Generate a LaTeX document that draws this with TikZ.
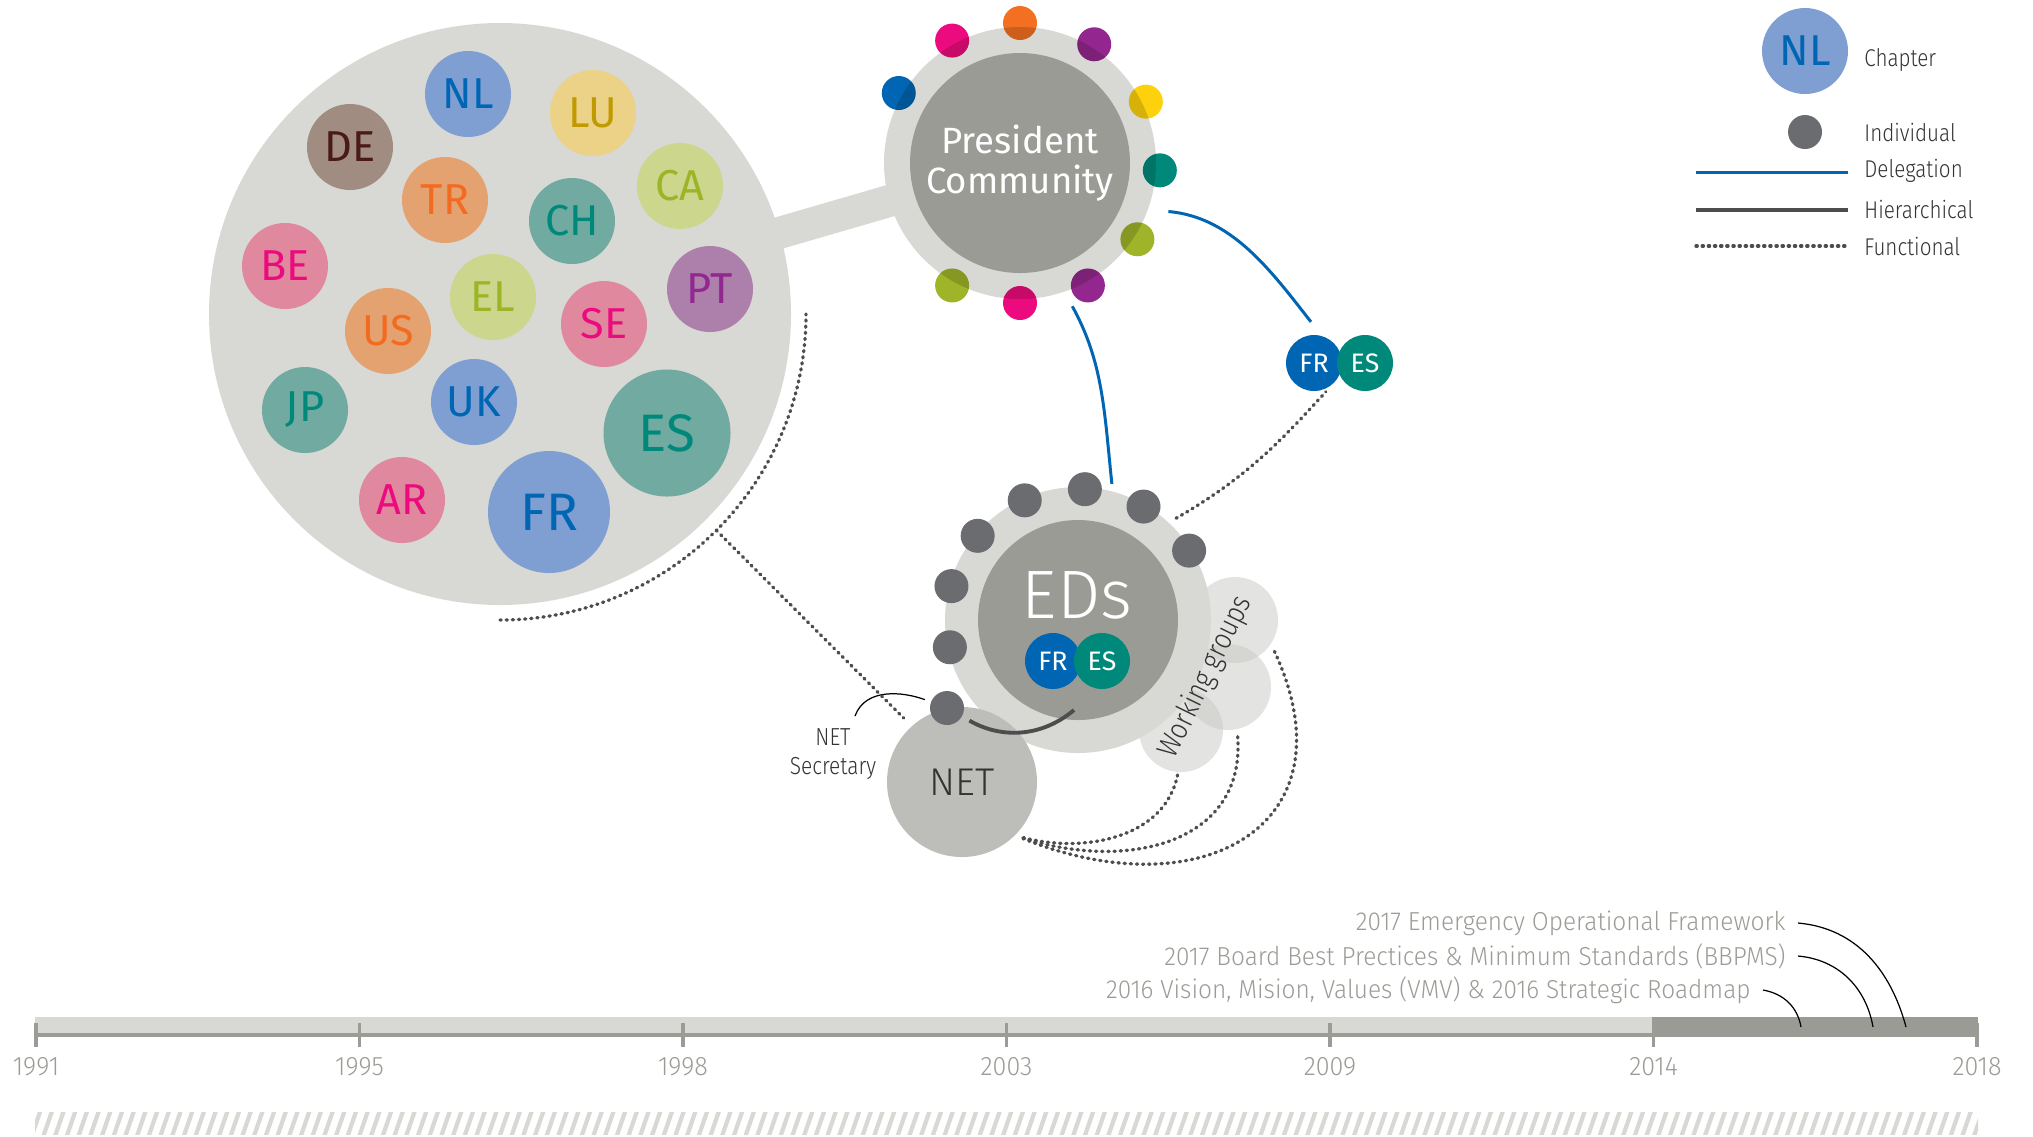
\documentclass[tikz,border=0pt]{standalone}
\usepackage{fontspec}
\setmainfont{Fira Sans}
\newfontfamily\lightfont{Fira Sans Light}
\newfontfamily\condfont{Fira Sans Light}[FakeStretch=0.85]
\newfontfamily\msfont{Fira Sans Light}[FakeStretch=0.94]
\usetikzlibrary{calc,positioning}

\definecolor{ringgrey}{HTML}{D8D8D4}
\definecolor{coregrey}{HTML}{9B9B96}
\definecolor{netgrey}{HTML}{BDBDB9}
\definecolor{wggrey}{HTML}{C7C7C3}
\definecolor{indgrey}{HTML}{6B6C70}
\definecolor{linegrey}{HTML}{4D4D4D}
\definecolor{txtgrey}{HTML}{333333}
\definecolor{yeargrey}{HTML}{9C9C96}
\definecolor{delblue}{HTML}{0066B3}
\definecolor{delteal}{HTML}{00897B}
\definecolor{blueF}{HTML}{7F9FD2}\definecolor{blueT}{HTML}{0066B3}
\definecolor{tealF}{HTML}{70AAA0}\definecolor{tealT}{HTML}{00897B}
\definecolor{pinkF}{HTML}{E0899E}\definecolor{pinkT}{HTML}{EC0B7E}
\definecolor{orngF}{HTML}{E5A271}\definecolor{orngT}{HTML}{F26B21}
\definecolor{limeF}{HTML}{CCD68C}\definecolor{limeT}{HTML}{9BB526}
\definecolor{yellF}{HTML}{EBD287}\definecolor{yellT}{HTML}{C09A00}
\definecolor{brwnF}{HTML}{A08C80}\definecolor{brwnT}{HTML}{4A1A1A}
\definecolor{purpF}{HTML}{AD7FAB}\definecolor{purpT}{HTML}{92278F}
\definecolor{dotorange}{HTML}{F36F21}
\definecolor{dotpink}{HTML}{EC0B7E}
\definecolor{dotpurple}{HTML}{93278F}
\definecolor{dotblue}{HTML}{0066B3}
\definecolor{dotyellow}{HTML}{FDD20C}
\definecolor{dotteal}{HTML}{00897B}
\definecolor{dotolive}{HTML}{A0B42A}

\tikzset{
  chap/.style={circle, inner sep=0pt, minimum size=0.86cm, fill=#1F, text=#1T,
    font=\fontsize{12.3}{12.3}\selectfont},
  bigchap/.style={minimum size=1.22cm, font=\fontsize{15}{15}\selectfont},
  pair/.style={circle, inner sep=0pt, minimum size=0.56cm, fill=#1, text=white,
    font=\fontsize{7.6}{7.6}\selectfont},
  indiv/.style={circle, inner sep=0pt, minimum size=0.34cm, fill=indgrey},
  wgroup/.style={circle, inner sep=0pt, minimum size=0.86cm, fill=wggrey, fill opacity=0.5},
  deleg/.style={delblue, line width=0.85pt},
  hier/.style={linegrey, line width=1.1pt},
  func/.style={linegrey, line width=0.95pt, line cap=round, dash pattern=on 0.35pt off 1.4pt},
  leader/.style={black, line width=0.35pt},
  legtext/.style={anchor=west, text=txtgrey, font=\condfont\fontsize{6.9}{6.9}\selectfont},
  year/.style={text=yeargrey, font=\msfont\fontsize{7.6}{7.6}\selectfont},
  milestone/.style={anchor=east, text=yeargrey, font=\msfont\fontsize{7.4}{7.4}\selectfont},
}

\begin{document}
\begin{tikzpicture}
\useasboundingbox (0,0) rectangle (20.33,-11.36);

    \coordinate (chapc) at (5.00,-3.14);
    \coordinate (pcc) at (10.20,-1.63);
    \coordinate (edc) at (10.78,-6.20);

    \draw[ringgrey, line width=0.32cm] (chapc) -- (pcc);
    \node[circle, fill=ringgrey, minimum size=5.82cm, inner sep=0pt] (chapters) at (chapc) {};

    \node[chap=blue] (nl) at (4.68,-0.94) {NL};
    \node[chap=yell] (lu) at (5.93,-1.13) {LU};
    \node[chap=brwn] (de) at (3.50,-1.47) {DE};
    \node[chap=orng] (tr) at (4.45,-2.00) {TR};
    \node[chap=teal] (ch) at (5.72,-2.21) {CH};
    \node[chap=lime] (ca) at (6.80,-1.86) {CA};
    \node[chap=pink] (be) at (2.85,-2.66) {BE};
    \node[chap=lime] (el) at (4.93,-2.97) {EL};
    \node[chap=pink] (se) at (6.04,-3.24) {SE};
    \node[chap=purp] (pt) at (7.10,-2.89) {PT};
    \node[chap=orng] (us) at (3.88,-3.31) {US};
    \node[chap=teal] (jp) at (3.05,-4.10) {JP};
    \node[chap=blue] (uk) at (4.74,-4.02) {UK};
    \node[chap=teal, bigchap, minimum size=1.27cm] (es) at (6.67,-4.33) {ES};
    \node[chap=pink] (ar) at (4.02,-5.00) {AR};
    \node[chap=blue, bigchap] (fr) at (5.49,-5.12) {FR};

    \node[circle, fill=ringgrey, minimum size=2.72cm, inner sep=0pt] (pc) at (pcc) {};
    \node[circle, fill=coregrey, minimum size=2.20cm, inner sep=0pt, text=white, align=center,
      font=\fontsize{10.4}{11.2}\selectfont] (pccore) at (pcc) {President\\Community};
    \begin{scope}[blend mode=multiply]
      \foreach \ang/\col in {150/dotblue, 119/dotpink, 90/dotorange, 58/dotpurple, 26/dotyellow,
          -3/dotteal, -33/dotolive, -61/dotpurple, -90/dotpink, -119/dotolive}
        \fill[\col] (pc.center) ++(\ang:1.40) circle (0.17);
    \end{scope}

    \node[pair=delblue] (frd) at (13.14,-3.63) {FR};
    \node[pair=delteal] (esd) at (13.65,-3.63) {ES};

    \node[wgroup] (wg1) at (12.35,-6.20) {};
    \node[wgroup] (wg2) at (12.28,-6.87) {};
    \node[wgroup, minimum size=0.84cm] (wg3) at (11.81,-7.30) {};

    \node[circle, fill=ringgrey, minimum size=2.66cm, inner sep=0pt] (eds) at (edc) {};
    \node[circle, fill=coregrey, minimum size=2.00cm, inner sep=0pt] (edcore) at (edc) {};
    \node[text=white, font=\lightfont\fontsize{19.5}{19.5}\selectfont] (edtxt) at (10.77,-5.95) {EDs};
    \node[pair=delblue] (fre) at (10.53,-6.61) {FR};
    \node[pair=delteal] (ese) at (11.02,-6.61) {ES};
    \foreach \ang [count=\i] in {192,165,140,114,87,60,32}
      \node[indiv] (ind\i) at ($(edc)+(\ang:1.31)$) {};

    \node[circle, fill=netgrey, minimum size=1.50cm, inner sep=0pt, text=txtgrey,
      font=\lightfont\fontsize{11}{11}\selectfont] (net) at (9.62,-7.82) {NET};
    \node[indiv] (sec) at (9.47,-7.08) {};
    \node[align=center, text=txtgrey, font=\condfont\fontsize{7}{8}\selectfont] (secl) at (8.33,-7.54) {NET\\Secretary};
    \node[rotate=64, text=txtgrey, font=\condfont\fontsize{8.5}{8.5}\selectfont] (wgtxt) at (12.06,-6.77) {Working groups};

    \coordinate (secfrom) at (8.55,-7.16);
    \coordinate (hierend) at (10.74,-7.10);
    \draw[leader, shorten >=0.06cm] (secfrom) to[out=70, in=160] (sec.159);
    \draw[hier, shorten <=0.08cm] (sec.-29) to[out=-30, in=-140] (hierend);

    \draw[deleg, shorten <=0.20cm, shorten >=0.17cm] (pc.-20) to[out=-5, in=128] (frd.75);
    \draw[deleg, shorten <=0.16cm, shorten >=0.07cm] (pc.-71) to[out=-61, in=96] (eds.75);

    \draw[func] (chapc) ++(-90:3.06) arc[start angle=-90, end angle=0, radius=3.06];
    \draw[func, shorten >=0.11cm] (chapc) ++(-45:3.06) -- (net.132);
    \draw[func, shorten <=0.08cm, shorten >=0.07cm] (eds.47) to[out=30, in=-132] (frd.-55);
    \draw[func, shorten <=0.08cm, shorten >=0.07cm] (net.-45) to[out=-22, in=-65, looseness=1.6] (wg1.-34);
    \draw[func, shorten <=0.08cm, shorten >=0.05cm] (net.-45) to[out=-18, in=-85, looseness=1.2] (wg2.-78);
    \draw[func, shorten <=0.08cm] (net.-45) to[out=-15, in=-100] (wg3.-94);

    \node[chap=blue] (legchap) at (18.05,-0.51) {NL};
    \node[legtext] (legchapt) at (18.52,-0.60) {Chapter};
    \node[indiv] (legind) at (18.05,-1.32) {};
    \node[legtext] (legindt) at (18.52,-1.32) {Individual};
    \node[legtext] (legdelt) at (18.52,-1.71) {Delegation};
    \node[legtext] (leghiert) at (18.52,-2.09) {Hierarchical};
    \node[legtext] (legfunct) at (18.52,-2.46) {Functional};
    \draw[deleg] (16.96,-1.72) -- (18.48,-1.72);
    \draw[hier] (16.96,-2.10) -- (18.48,-2.10);
    \draw[func] (16.96,-2.46) -- (18.48,-2.46);

    \fill[ringgrey] (0.35,-10.17) rectangle (16.52,-10.37);
    \fill[coregrey] (16.52,-10.17) rectangle (19.78,-10.37);
    \draw[yeargrey, line width=1.1pt] (0.35,-10.35) -- (16.52,-10.35);
    \foreach \yr [count=\i from 0] in {1991,1995,1998,2003,2009,2014,2018}{
      \draw[yeargrey, line width=0.9pt] (0.36+\i*3.235,-10.23) -- ++(0,-0.24);
      \node[year] (yr\yr) at (0.36+\i*3.235,-10.67) {\yr};
    }
    \begin{scope}
      \clip (0.35,-11.12) rectangle (19.78,-11.34);
      \foreach \x in {0.20,0.317,...,19.90}
        \draw[ringgrey, line width=1.2pt] (\x,-11.36) -- ++(0.09,0.26);
    \end{scope}

    \node[milestone] (ms1) at (17.98,-9.23) {2017 Emergency Operational Framework};
    \node[milestone] (ms2) at (17.98,-9.56) {2017 Board Best Prectices \& Minimum Standards (BBPMS)};
    \node[milestone] (ms3) at (17.63,-9.90) {2016 Vision, Mision, Values (VMV) \& 2016 Strategic Roadmap};
    \coordinate (ms1end) at (19.06,-10.27);
    \coordinate (ms2end) at (18.73,-10.27);
    \coordinate (ms3end) at (18.01,-10.27);
    \draw[leader] (ms1.east) to[out=-5, in=105] (ms1end);
    \draw[leader] (ms2.east) to[out=-5, in=100] (ms2end);
    \draw[leader] (ms3.east) to[out=-10, in=100] (ms3end);

\end{tikzpicture}
\end{document}
